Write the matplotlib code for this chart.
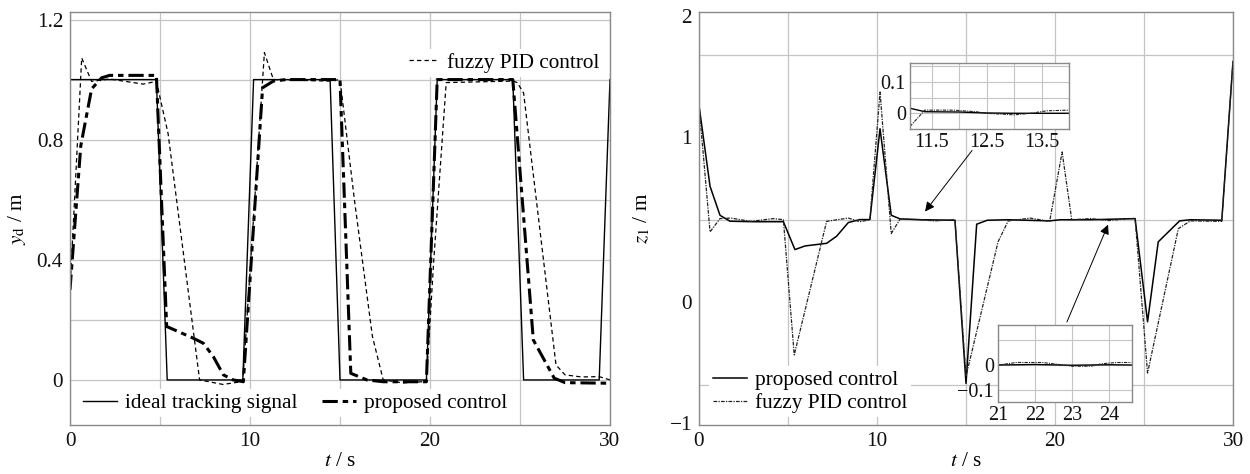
import matplotlib
matplotlib.use("Agg")
import matplotlib.pyplot as plt
from matplotlib.lines import Line2D

plt.rcParams['font.family'] = ['Liberation Serif', 'DejaVu Serif']
plt.rcParams['mathtext.fontset'] = 'stix'
plt.rcParams['axes.unicode_minus'] = True

# ---- left panel: y_d tracking ----
t_ideal = [0, 4.8, 5.4, 9.6, 10.2, 14.45, 15.0, 19.8, 20.4, 24.6, 25.2, 29.4, 30]
y_ideal = [1, 1, 0, 0, 1, 1, 0, 0, 1, 1, 0, 0, 1]

t_prop = [0, 0.6, 1.2, 1.76, 2.2, 4.8, 5.37, 6.85, 7.41, 7.96, 8.52, 9.07, 9.63,
          10.7, 11.3, 12.0, 15.0, 15.6, 16.5, 17.4, 19.8, 20.4, 24.6, 25.74,
          26.9, 27.5, 30]
y_prop = [0.3, 0.78, 0.969, 1.006, 1.014, 1.014, 0.178, 0.139, 0.122, 0.078, 0.017,
          0.0, -0.006, 0.973, 0.995, 1.0, 1.0, 0.022, 0.0, -0.006, -0.006, 1.0, 1.0,
          0.133, 0.006, -0.009, -0.011]

t_fuzzy = [0, 0.65, 1.2, 2.2, 4.07, 4.8, 5.45, 7.2, 8.5, 9.6, 10.8, 11.3, 14.4, 15.0,
           15.8, 16.8, 17.4, 18.5, 19.8, 20.2, 20.9, 24.6, 24.85, 25.2, 27.0, 27.5,
           28.4, 29.4, 30]
y_fuzzy = [0.3, 1.072, 0.994, 1.002, 0.985, 0.994, 0.82, 0.0, -0.015, -0.005, 1.09,
           1.0, 0.995, 1.0, 0.6, 0.145, 0.0, -0.01, -0.005, 0.39, 0.99, 0.995, 0.99,
           0.955, 0.05, 0.017, 0.01, 0.011, 0.0]

# ---- right panel: z_1 error ----
t_z = [0, 0.62, 1.18, 1.74, 3.05, 4.74, 5.39, 5.96, 7.17, 7.73, 8.39, 9.04, 9.6,
       10.17, 10.8, 11.3, 12.5, 14.38, 15.0, 15.6, 16.2, 17.37, 19.7, 20.3, 22.0,
       24.5, 25.2, 25.8, 27.0, 27.6, 29.37, 30]
z_prop = [1.194, 0.703, 0.527, 0.491, 0.488, 0.488, 0.319, 0.341, 0.357, 0.40, 0.483,
          0.501, 0.501, 1.052, 0.527, 0.505, 0.5, 0.497, -0.493, 0.473, 0.497, 0.5,
          0.493, 0.5, 0.5, 0.507, -0.119, 0.366, 0.493, 0.5, 0.497, 1.46]

t_zf = [0, 0.62, 1.18, 1.8, 2.9, 4.2, 4.74, 5.35, 7.17, 7.75, 8.39, 9.04, 9.6, 10.17,
        10.8, 11.3, 12.5, 13.2, 14.38, 15.0, 16.8, 17.37, 18.6, 19.7, 20.4, 20.94,
        22.0, 23.0, 24.0, 24.5, 25.2, 26.93, 27.6, 29.37, 30]
z_fuzzy = [1.194, 0.426, 0.507, 0.51, 0.49, 0.507, 0.5, -0.32, 0.49, 0.5, 0.51, 0.488,
           0.5, 1.275, 0.416, 0.505, 0.5, 0.493, 0.5, -0.45, 0.366, 0.493, 0.51, 0.49,
           0.911, 0.5, 0.507, 0.495, 0.505, 0.507, -0.43, 0.446, 0.493, 0.49, 1.46]

# zoomed insets
t_in1 = [11.1, 11.37, 12.0, 12.5, 13.0, 13.5, 14.0]
z_in1_prop = [0.016, 0.005, 0.004, 0.001, 0.0, 0.0, 0.0]
t_in1f = [11.1, 11.37, 11.9, 12.3, 12.5, 13.0, 13.3, 13.6, 14.0]
z_in1_fuzzy = [-0.042, 0.01, 0.01, 0.005, 0.0, -0.005, 0.0, 0.008, 0.01]

t_in2 = [21, 22, 23, 24, 24.6]
z_in2_prop = [0.0, 0.002, -0.001, 0.001, 0.0]
t_in2f = [21, 21.5, 22.2, 22.6, 23.0, 23.5, 23.8, 24.2, 24.6]
z_in2_fuzzy = [0.0, 0.01, 0.01, 0.003, -0.005, -0.005, 0.005, 0.01, 0.01]

GRID = '#c4c4c4'
SPINE = '#8a8a8a'
FS = 15.3

fig = plt.figure(figsize=(12.5, 4.74), dpi=100)


def style(ax, fs=FS, pad=5):
    for s in ax.spines.values():
        s.set_color(SPINE)
        s.set_linewidth(1.0)
    ax.tick_params(which='both', length=0, labelsize=fs, pad=pad, colors='#111111')
    ax.set_axisbelow(True)


# ===== left =====
ax1 = fig.add_axes([70 / 1250, 1 - 425 / 474, 540 / 1250, 413 / 474])
style(ax1)
ax1.plot(t_ideal, y_ideal, color='black', lw=1.0)
ax1.plot(t_prop, y_prop, color='black', lw=2.2, dashes=[5, 1.6, 1.8, 1.6])
ax1.plot(t_fuzzy, y_fuzzy, color='black', lw=0.9, dashes=[3.5, 2.5])
ax1.set_xlim(0, 30)
ax1.set_ylim(-0.15, 1.225)
ax1.set_xticks([0, 10, 20, 30])
ax1.set_xticks([5, 15, 25], minor=True)
ax1.set_yticks([0, 0.4, 0.8, 1.2])
ax1.set_yticklabels(['0', '0.4', '0.8', '1.2'])
ax1.set_yticks([0.2, 0.6, 1.0], minor=True)
ax1.grid(True, which='both', color=GRID, lw=0.9)
ax1.set_xlabel('$t$ / s', fontsize=FS, labelpad=1)
ax1.set_ylabel(r'$y_{\rm d}$ / m', fontsize=FS, labelpad=6)

common = dict(frameon=True, facecolor='white', edgecolor='none', framealpha=1,
              fontsize=FS, borderaxespad=0, borderpad=0.2, handletextpad=0.35,
              loc='center left')
h_ideal = Line2D([], [], color='black', lw=1.0)
h_prop = Line2D([], [], color='black', lw=2.2, dashes=[5, 1.6, 1.8, 1.6])
h_fuzzy = Line2D([], [], color='black', lw=0.9, dashes=[3.5, 2.5])
lg1 = ax1.legend([h_ideal], ['ideal tracking signal'], handlelength=1.6,
                 bbox_to_anchor=(0.017, 0.053), **common)
ax1.add_artist(lg1)
lg2 = ax1.legend([h_prop], ['proposed control'], handlelength=1.6,
                 bbox_to_anchor=(0.459, 0.053), **common)
ax1.add_artist(lg2)
ax1.legend([h_fuzzy], ['fuzzy PID control'], handlelength=1.45,
           bbox_to_anchor=(0.619, 0.877), **common)

# ===== right =====
ax2 = fig.add_axes([699 / 1250, 1 - 425 / 474, 534 / 1250, 413 / 474])
style(ax2)
ax2.plot(t_z, z_prop, color='black', lw=1.1)
ax2.plot(t_zf, z_fuzzy, color='#222222', lw=0.9, dashes=[3, 1, 1, 1])
ax2.set_xlim(0, 30)
ax2.set_ylim(-0.745, 1.76)
ax2.set_xticks([0, 10, 20, 30])
ax2.set_xticks([5, 15, 25], minor=True)
ax2.set_yticks([-0.735, 0, 1, 1.735])
ax2.set_yticklabels(['\u22121', '0', '1', '2'])
ax2.set_yticks([-0.5, 0, 0.5, 1, 1.5], minor=True)
ax2.grid(True, which='minor', axis='y', color=GRID, lw=0.9)
ax2.grid(True, which='both', axis='x', color=GRID, lw=0.9)
ax2.set_xlabel('$t$ / s', fontsize=FS, labelpad=1)
ax2.set_ylabel(r'$z_{\rm 1}$ / m', fontsize=FS, labelpad=12)
ax2.legend([Line2D([], [], color='black', lw=1.1),
            Line2D([], [], color='#222222', lw=0.9, dashes=[3, 1, 1, 1])],
           ['proposed control', 'fuzzy PID control'], handlelength=1.6,
           labelspacing=0.15, bbox_to_anchor=(0.019, 0.081), **common)

# arrows pointing from insets to the zoomed regions
arr = dict(arrowstyle='-|>', color='black', lw=0.7, mutation_scale=14,
           shrinkA=0, shrinkB=0)
ax2.annotate('', xy=(12.7, 0.55), xytext=(15.34, 0.92), arrowprops=arr)
ax2.annotate('', xy=(22.98, 0.47), xytext=(20.67, -0.12), arrowprops=arr)

# inset 1
ia = fig.add_axes([910 / 1250, 1 - 129 / 474, 159 / 1250, 66 / 474])
style(ia, fs=14.5, pad=3)
ia.plot(t_in1, z_in1_prop, color='black', lw=1.0)
ia.plot(t_in1f, z_in1_fuzzy, color='#222222', lw=0.8, dashes=[3, 1, 1, 1])
ia.set_xlim(11.1, 14.0)
ia.set_ylim(-0.05, 0.16)
ia.set_xticks([11.5, 12.5, 13.5])
ia.set_xticklabels(['11.5', '12.5', '13.5'])
ia.set_xticks([12, 13], minor=True)
ia.set_yticks([0, 0.1])
ia.set_yticklabels(['0', '0.1'])
ia.set_yticks([0.05, 0.15], minor=True)
ia.grid(True, which='both', color=GRID, lw=0.8)

# inset 2
ib = fig.add_axes([998 / 1250, 1 - 402 / 474, 134 / 1250, 77 / 474])
style(ib, fs=14.5, pad=3)
ib.plot(t_in2, z_in2_prop, color='black', lw=1.0)
ib.plot(t_in2f, z_in2_fuzzy, color='#222222', lw=0.8, dashes=[3, 1, 1, 1])
ib.set_xlim(21, 24.62)
ib.set_ylim(-0.148, 0.16)
ib.set_xticks([21, 22, 23, 24])
ib.set_yticks([-0.1, 0])
ib.set_yticklabels(['\u22120.1', '0'])
ib.set_yticks([0.1], minor=True)
ib.grid(True, which='both', color=GRID, lw=0.8)

fig.savefig('out.png', dpi=100)
